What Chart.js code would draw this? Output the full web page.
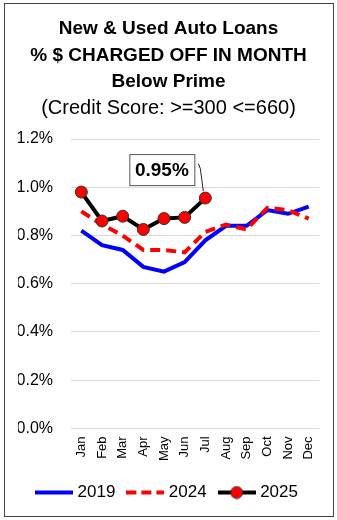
<!DOCTYPE html>
<html>
<head>
<meta charset="utf-8">
<script src="https://cdn.jsdelivr.net/npm/chart.js@4"></script>
<style>
  html, body { margin: 0; padding: 0; background: #fff; }
  #wrap { position: relative; width: 337px; height: 520px; }
  #frame { position: absolute; left: 4px; top: 3px; width: 328px; height: 512px; border: 1px solid #444; pointer-events: none; }
</style>
</head>
<body>
<div id="wrap">
  <canvas id="chart" width="337" height="520"></canvas>
  <div id="frame"></div>
</div>
<script>
// --- data ---
const months = ['Jan', 'Feb', 'Mar', 'Apr', 'May', 'Jun', 'Jul', 'Aug', 'Sep', 'Oct', 'Nov', 'Dec'];
const y2019 = [0.82, 0.76, 0.74, 0.67, 0.65, 0.69, 0.78, 0.84, 0.84, 0.905, 0.89, 0.92];
const y2024 = [0.90, 0.845, 0.80, 0.74, 0.74, 0.73, 0.815, 0.845, 0.825, 0.915, 0.905, 0.87];
const y2025 = [0.98, 0.86, 0.88, 0.825, 0.87, 0.875, 0.955];
const yTicks = [0, 0.2, 0.4, 0.6, 0.8, 1.0, 1.2];
const calloutText = '0.95%';

const FONT = "'Liberation Sans', Arial, sans-serif";
const BLUE = '#0000ff';
const RED = '#ff0000';

// small canvases used as legend markers
function marker(kind) {
    const c = document.createElement('canvas');
    c.width = 38; c.height = 14;
    const g = c.getContext('2d');
    g.lineWidth = 4;
    if (kind === 'solid') {
        g.strokeStyle = BLUE;
        g.beginPath(); g.moveTo(0, 7); g.lineTo(38, 7); g.stroke();
    } else if (kind === 'dash') {
        g.strokeStyle = RED;
        g.setLineDash([10, 5]);
        g.beginPath(); g.moveTo(0, 7); g.lineTo(38, 7); g.stroke();
    } else {
        g.strokeStyle = '#000';
        g.beginPath(); g.moveTo(0, 7); g.lineTo(38, 7); g.stroke();
        g.fillStyle = RED; g.lineWidth = 1; g.strokeStyle = '#333';
        g.beginPath(); g.arc(19, 7, 6, 0, Math.PI * 2); g.fill(); g.stroke();
    }
    return c;
}
const markers = { '2019': marker('solid'), '2024': marker('dash'), '2025': marker('dot') };

// callout box with leader line for the last 2025 point
const callout = {
    id: 'callout',
    afterDatasetsDraw(chart) {
        const meta = chart.getDatasetMeta(0);
        const pt = meta.data[meta.data.length - 1];
        const ctx = chart.ctx;
        const bx = pt.x - 76, by = pt.y - 44, bw = 65, bh = 31;
        ctx.save();
        ctx.fillStyle = '#fff';
        ctx.fillRect(bx, by, bw, bh);
        ctx.strokeStyle = '#555';
        ctx.lineWidth = 1;
        ctx.strokeRect(bx + 0.5, by + 0.5, bw, bh);
        ctx.fillStyle = '#000';
        ctx.font = 'bold 19px ' + FONT;
        ctx.textAlign = 'center';
        ctx.textBaseline = 'middle';
        ctx.fillText(calloutText, bx + bw / 2, by + bh / 2 + 1);
        ctx.strokeStyle = '#222';
        ctx.beginPath();
        ctx.moveTo(bx + bw + 4, by + bh / 2 - 6);
        ctx.lineTo(bx + bw + 6, by + bh / 2 - 1);
        ctx.lineTo(pt.x - 2, pt.y - 7);
        ctx.stroke();
        ctx.restore();
    }
};

new Chart(document.getElementById('chart'), {
    type: 'line',
    data: {
        labels: months,
        datasets: [
            {
                label: '2025',
                data: y2025,
                borderColor: '#000',
                borderWidth: 4,
                pointRadius: 6,
                pointBackgroundColor: RED,
                pointBorderColor: '#333',
                pointBorderWidth: 1,
                tension: 0
            },
            {
                label: '2024',
                data: y2024,
                borderColor: RED,
                borderWidth: 4,
                borderDash: [10, 6],
                pointRadius: 0,
                tension: 0
            },
            {
                label: '2019',
                data: y2019,
                borderColor: BLUE,
                borderWidth: 4,
                pointRadius: 0,
                tension: 0
            }
        ]
    },
    options: {
        responsive: false,
        animation: false,
        layout: { padding: { left: 18, right: 18, top: 0, bottom: 9 } },
        scales: {
            x: {
                offset: true,
                grid: { display: false, drawTicks: false },
                border: { display: false },
                ticks: {
                    color: '#000',
                    font: { family: FONT, size: 13 },
                    maxRotation: 90,
                    minRotation: 90,
                    padding: 8
                }
            },
            y: {
                min: 0,
                max: 1.2,
                afterBuildTicks: (s) => { s.ticks = yTicks.map(v => ({ value: v })); },
                afterFit: (s) => { s.width = 53; },
                grid: { color: '#d9d9d9', drawTicks: false },
                border: { display: false },
                ticks: {
                    color: '#000',
                    font: { family: FONT, size: 16 },
                    padding: 18,
                    callback: (v) => v.toFixed(1) + '%'
                }
            }
        },
        plugins: {
            title: {
                display: true,
                text: ['New & Used Auto Loans', '% $ CHARGED OFF IN MONTH', 'Below Prime'],
                color: '#000',
                font: { family: FONT, size: 19, weight: 'bold', lineHeight: '26.5px' },
                padding: { top: 16, bottom: 0 }
            },
            subtitle: {
                display: true,
                text: '(Credit Score: >=300 <=660)',
                color: '#000',
                font: { family: FONT, size: 20, lineHeight: '26.5px' },
                padding: { top: 0, bottom: 17 }
            },
            legend: {
                position: 'bottom',
                reverse: true,
                labels: {
                    color: '#000',
                    font: { family: FONT, size: 17 },
                    usePointStyle: true,
                    pointStyleWidth: 30,
                    padding: 15,
                    generateLabels: (chart) => {
                        const items = Chart.defaults.plugins.legend.labels.generateLabels(chart);
                        items.forEach(it => { it.pointStyle = markers[it.text]; });
                        return items;
                    }
                }
            },
            tooltip: { enabled: false }
        }
    },
    plugins: [callout]
});
</script>
</body>
</html>
